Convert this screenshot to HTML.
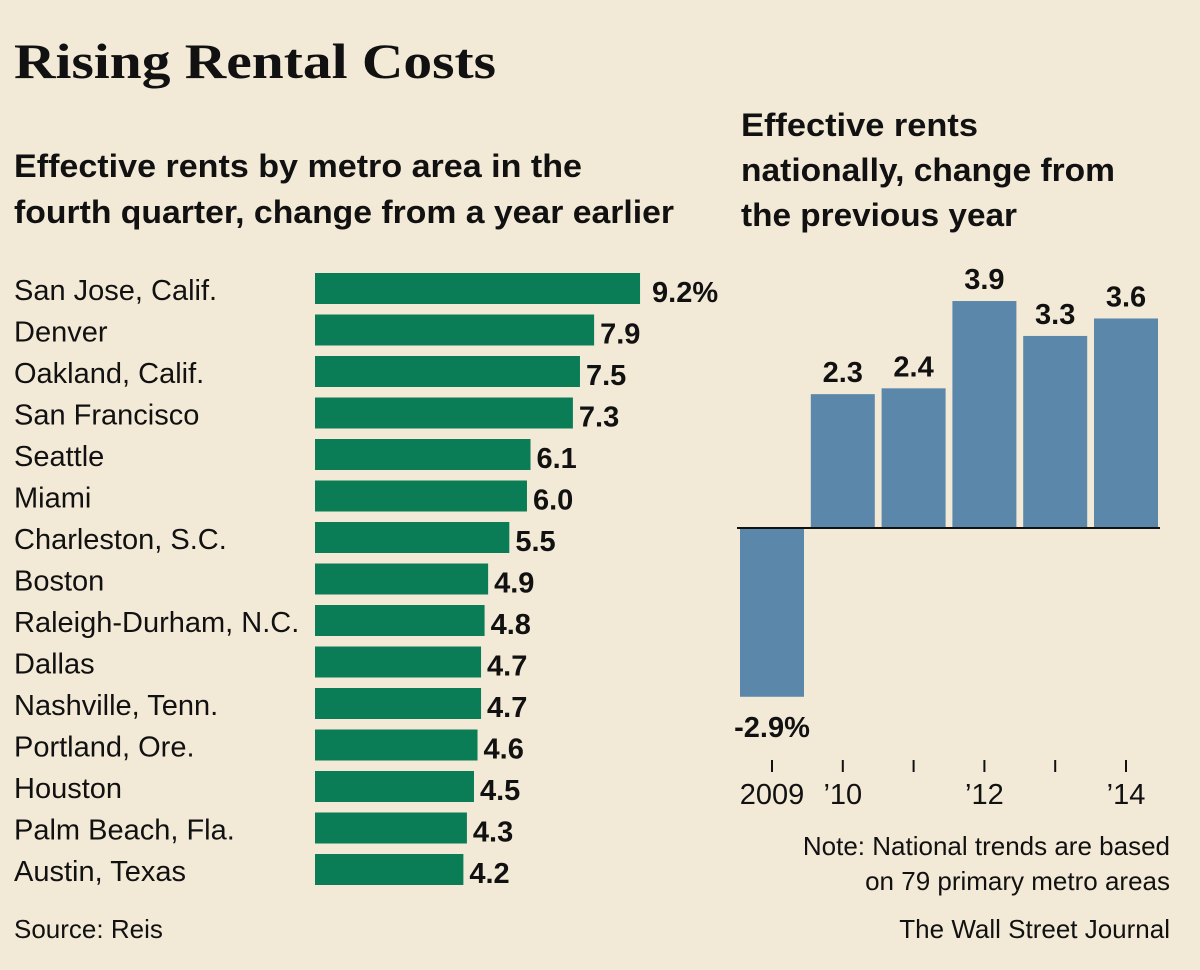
<!DOCTYPE html>
<html><head><meta charset="utf-8"><style>
body{margin:0;background:#f2e9d7;}
svg{display:block}
.t{font-family:"Liberation Sans Narrow","Liberation Sans",sans-serif;fill:#111}
</style></head><body>
<svg id="c" width="1200" height="970" viewBox="0 0 1200 970" xmlns="http://www.w3.org/2000/svg">
<rect width="1200" height="970" fill="#f2e9d7"/>
<text x="14" y="78" font-family="Liberation Serif,serif" font-weight="bold" font-size="50" fill="#111" textLength="482" lengthAdjust="spacingAndGlyphs">Rising Rental Costs</text>
<text class="t" x="14" y="177" font-weight="bold" font-size="32" textLength="568" lengthAdjust="spacingAndGlyphs">Effective rents by metro area in the</text>
<text class="t" x="14" y="223" font-weight="bold" font-size="32" textLength="660" lengthAdjust="spacingAndGlyphs">fourth quarter, change from a year earlier</text>
<text class="t" x="741" y="136" font-weight="bold" font-size="32" textLength="237" lengthAdjust="spacingAndGlyphs">Effective rents</text>
<text class="t" x="741" y="181" font-weight="bold" font-size="32" textLength="374" lengthAdjust="spacingAndGlyphs">nationally, change from</text>
<text class="t" x="741" y="226" font-weight="bold" font-size="32" textLength="276" lengthAdjust="spacingAndGlyphs">the previous year</text>
<g id="left"></g>
<g id="right"></g>
<text class="t" x="14" y="938" font-size="26">Source: Reis</text>
<text class="t" x="1170" y="855" font-size="26" text-anchor="end">Note: National trends are based</text>
<text class="t" x="1170" y="890" font-size="26" text-anchor="end">on 79 primary metro areas</text>
<text class="t" x="1170" y="938" font-size="26" text-anchor="end">The Wall Street Journal</text>
</svg>
<script>
const metros=["San Jose, Calif.","Denver","Oakland, Calif.","San Francisco","Seattle","Miami","Charleston, S.C.","Boston","Raleigh-Durham, N.C.","Dallas","Nashville, Tenn.","Portland, Ore.","Houston","Palm Beach, Fla.","Austin, Texas"];
const metroValues=[9.2,7.9,7.5,7.3,6.1,6.0,5.5,4.9,4.8,4.7,4.7,4.6,4.5,4.3,4.2];
const years=["2009","2010","2011","2012","2013","2014"];
const yearLabels=["2009","’10","","’12","","’14"];
const nationalValues=[-2.9,2.3,2.4,3.9,3.3,3.6];
const NS="http://www.w3.org/2000/svg";
function mk(tag,attrs,parent){const e=document.createElementNS(NS,tag);for(const k in attrs)e.setAttribute(k,attrs[k]);parent.appendChild(e);return e;}
const L=document.getElementById('left'),R=document.getElementById('right');
const lx=v=>315+v*35.33, ly=i=>273+i*41.5;
metros.forEach((m,i)=>{
  const t=mk('text',{class:'t',x:14,y:ly(i)+27,'font-size':29},L);t.textContent=m;
  
  
  const r=mk('rect',{x:315,y:ly(i),width:lx(metroValues[i])-315,height:31,fill:'#0b7d56'},L);
  
  
  const v=mk('text',{class:'t',x:lx(metroValues[i])+(i==0?12:6),y:ly(i)+29,'font-size':29,'font-weight':'bold'},L);
  v.textContent=metroValues[i].toFixed(1)+(i==0?'%':'');
  
  
});
const base=528, sc=58.2, bx=i=>740+i*70.8;
const yv=v=>base-v*sc;
nationalValues.forEach((v,i)=>{
  const top=Math.min(yv(v),base),h=Math.abs(yv(v)-base);
  const r=mk('rect',{x:bx(i),y:top,width:64,height:h,fill:'#5b88aa'},R);
  
  
  const t=mk('text',{class:'t',x:bx(i)+32,y:v>=0?yv(v)-12:yv(v)+40,'font-size':29,'font-weight':'bold','text-anchor':'middle'},R);
  t.textContent=v.toFixed(1)+(i==0?'%':'');
  
  
  const k=mk('line',{x1:bx(i)+32,x2:bx(i)+32,y1:760,y2:772,stroke:'#111','stroke-width':2},R);
  
  
  if(yearLabels[i]){const l=mk('text',{class:'t',x:bx(i)+32+(i==1?0:0),y:804,'font-size':29,'text-anchor':'middle'},R);l.textContent=yearLabels[i];
  
  }
});
const z=mk('line',{x1:737,x2:1160,y1:base,y2:base,stroke:'#111','stroke-width':2},R);


</script>
</body></html>
